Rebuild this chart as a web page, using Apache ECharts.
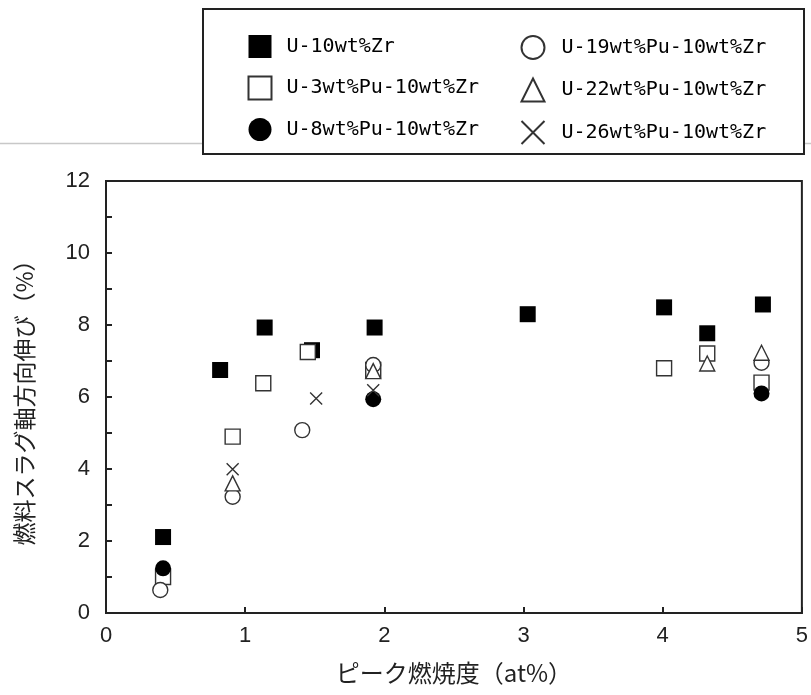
<!DOCTYPE html>
<html>
<head>
<meta charset="utf-8">
<script src="https://cdn.jsdelivr.net/npm/echarts@6/dist/echarts.min.js"></script>
<style>
html,body{margin:0;padding:0;background:#fff;}
#chart{width:811px;height:695px;}
</style>
</head>
<body>
<div id="chart"></div>
<script>
// ---- data ----
const seriesNames = ['U-10wt%Zr','U-3wt%Pu-10wt%Zr','U-8wt%Pu-10wt%Zr','U-19wt%Pu-10wt%Zr','U-22wt%Pu-10wt%Zr','U-26wt%Pu-10wt%Zr'];
const u10Zr   = [[0.41,2.11],[0.82,6.75],[1.14,7.93],[1.48,7.30],[1.93,7.93],[3.03,8.30],[4.01,8.49],[4.32,7.77],[4.72,8.57]];
const u3Pu    = [[0.41,1.00],[0.91,4.90],[1.13,6.38],[1.45,7.25],[1.92,6.75],[4.01,6.80],[4.32,7.21],[4.71,6.40]];
const u8Pu    = [[0.41,1.24],[1.92,5.94],[4.71,6.10]];
const u19Pu   = [[0.39,0.64],[0.91,3.23],[1.41,5.08],[1.92,6.89],[4.71,6.95]];
const u22Pu   = [[0.91,3.60],[1.92,6.72],[4.32,6.93],[4.71,7.23]];
const u26Pu   = [[0.91,3.99],[1.51,5.96],[1.92,6.19]];
const xTicks = [0,1,2,3,4,5];
const yTicks = [0,2,4,6,8,10,12];

const crossPath = 'path://M0,0L10,10M10,0L0,10';
const openStyle = {color:'#fff', borderColor:'#333', borderWidth:1.4, opacity:1};
const filledStyle = {color:'#000', opacity:1};

const chart = echarts.init(document.getElementById('chart'), null, {renderer:'canvas'});
const monoFont = "'DejaVu Sans Mono', 'Liberation Mono', monospace";
const numFont = "'Liberation Sans Narrow', 'Liberation Sans', Arial, sans-serif";
const jpFont = "'Noto Sans CJK JP', sans-serif";

const option = {
  backgroundColor:'#fff',
  animation:false,
  graphic:[
    {type:'line', z:0, shape:{x1:0,y1:143.5,x2:811,y2:143.5}, style:{stroke:'#c8c8c8', lineWidth:1.5}},
    {type:'rect', z:1, shape:{x:203,y:9,width:601,height:145}, style:{fill:'#fff', stroke:'#222', lineWidth:2}}
  ],
  legend:[
    {data:seriesNames.slice(0,3), orient:'vertical', left:242.5, top:30, itemWidth:23, itemHeight:23, itemGap:17.5,
     z:5, textStyle:{fontFamily:monoFont, fontSize:20, color:'#000', padding:[0,0,0,10]}},
    {data:seriesNames.slice(3,6), orient:'vertical', left:515.5, top:30, itemWidth:23, itemHeight:23, itemGap:17.5,
     z:5, textStyle:{fontFamily:monoFont, fontSize:20, color:'#000', padding:[0,0,0,12]}}
  ],
  grid:{left:106, right:6, top:181, bottom:82, show:true, borderColor:'#222', borderWidth:2, containLabel:false},
  xAxis:{
    type:'value', min:xTicks[0], max:xTicks[xTicks.length-1], interval:1,
    name:'ピーク燃焼度（at%）', nameLocation:'middle', nameGap:48,
    nameTextStyle:{fontFamily:jpFont, fontSize:24, color:'#222'},
    axisLine:{show:true, lineStyle:{color:'#222', width:2}},
    axisTick:{show:true, inside:true, length:6, lineStyle:{color:'#222', width:2}},
    axisLabel:{fontFamily:numFont, fontSize:22, color:'#222', margin:12},
    splitLine:{show:false}
  },
  yAxis:{
    type:'value', min:yTicks[0], max:yTicks[yTicks.length-1], interval:2,
    name:'燃料スラグ軸方向伸び（%）', nameLocation:'middle', nameGap:70, nameRotate:90,
    nameTextStyle:{fontFamily:jpFont, fontSize:23, color:'#222'},
    axisLine:{show:true, lineStyle:{color:'#222', width:2}},
    axisTick:{show:true, inside:true, length:6, lineStyle:{color:'#222', width:2}},
    minorTick:{show:true, splitNumber:2, length:6, lineStyle:{color:'#222', width:2}},
    axisLabel:{fontFamily:numFont, fontSize:22, color:'#222', margin:16},
    splitLine:{show:false}
  },
  series:[
    {name:seriesNames[0], type:'scatter', data:u10Zr, symbol:'rect', symbolSize:16, itemStyle:filledStyle},
    {name:seriesNames[1], type:'scatter', data:u3Pu, symbol:'rect', symbolSize:15, itemStyle:openStyle},
    {name:seriesNames[2], type:'scatter', data:u8Pu, symbol:'circle', symbolSize:16, itemStyle:filledStyle},
    {name:seriesNames[3], type:'scatter', data:u19Pu, symbol:'circle', symbolSize:15, itemStyle:openStyle},
    {name:seriesNames[4], type:'scatter', data:u22Pu, symbol:'triangle', symbolSize:15, itemStyle:openStyle},
    {name:seriesNames[5], type:'scatter', data:u26Pu, symbol:crossPath, symbolSize:12, itemStyle:{color:'rgba(0,0,0,0)', borderColor:'#333', borderWidth:1.4, opacity:1}}
  ]
};
chart.setOption(option);
</script>
</body>
</html>
